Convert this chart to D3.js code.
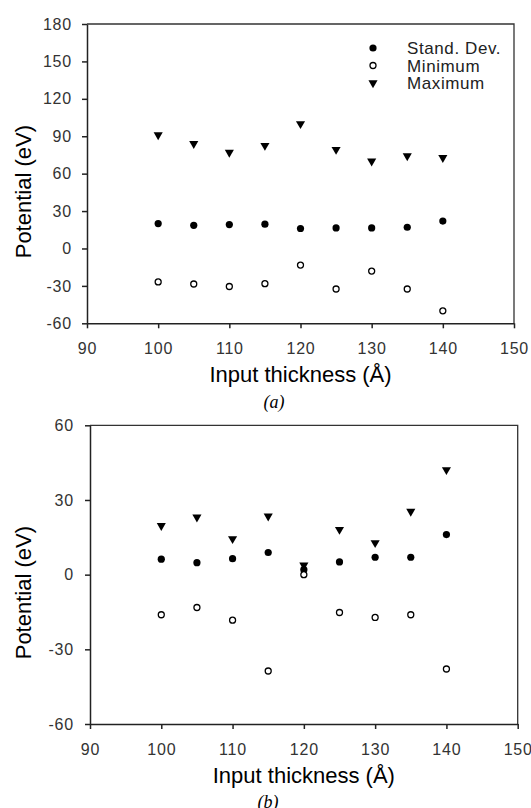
<!DOCTYPE html>
<html>
<head>
<meta charset="utf-8">
<script src="https://cdn.jsdelivr.net/npm/d3@7"></script>
<style>
    body { margin: 0; background: #fff; }
    svg { display: block; }
    .tick text { font-family: "Liberation Sans", Arial, sans-serif; font-size: 16px; fill: #333; letter-spacing: 0.8px; }
    .axis path, .axis line { stroke: #222; stroke-width: 1.5px; }
    .frame { stroke: #333; stroke-width: 1.3px; fill: none; }
    .title { font-family: "Liberation Sans", Arial, sans-serif; font-size: 22px; fill: #000; }
    .legend text { font-family: "Liberation Sans", Arial, sans-serif; font-size: 17px; fill: #222; letter-spacing: 0.6px; }
    .panel-label { font-family: "Liberation Serif", "Times New Roman", serif; font-style: italic; font-size: 18px; }
</style>
</head>
<body>
<div id="chart"></div>
<script>

// input thickness (Angstrom) shared by both panels
var thickness = [100, 105, 110, 115, 120, 125, 130, 135, 140];

// panel (a)
var stdA = [20, 18.6, 19.2, 19.5, 16, 16.5, 16.5, 17, 22];
var minA = [-26.8, -28.5, -30.5, -28.2, -13.3, -32.5, -18.1, -32.5, -50];
var maxA = [91, 84, 77, 82.5, 100, 79.3, 70, 74.2, 72.8];

// panel (b)
var stdB = [6.2, 4.8, 6.4, 8.9, 2, 5.1, 7, 7, 16.1];
var minB = [-16.1, -13.2, -18.3, -38.7, 0, -15.2, -17.2, -16.1, -37.9];
var maxB = [19.7, 23.1, 14.4, 23.5, 3.8, 18.1, 12.8, 25.4, 42.1];

var xTicks = [90, 100, 110, 120, 130, 140, 150];
var yTicksA = [-60, -30, 0, 30, 60, 90, 120, 150, 180];
var yTicksB = [-60, -30, 0, 30, 60];

var seriesNames = ["Stand. Dev.", "Minimum", "Maximum"];

var svg = d3.select("#chart").append("svg")
    .attr("width", 531)
    .attr("height", 808);

var triangle = d3.symbol().type(d3.symbolTriangle).size(36);

function drawMarker(sel, kind) {
    if (kind == 0) {
        sel.append("circle").attr("r", 3.6).attr("fill", "#000");
    } else if (kind == 1) {
        sel.append("circle").attr("r", 3).attr("fill", "#fff")
            .attr("stroke", "#000").attr("stroke-width", 1.3);
    } else {
        sel.append("path").attr("d", triangle).attr("transform", "rotate(180)")
            .attr("fill", "#000");
    }
}

// plain hyphen minus like the original ("-60")
function plain(d) { return String(d); }

/*
 * One scatter panel
 */
function drawPanel(opts) {
    var g = svg.append("g")
        .attr("transform", "translate(" + opts.left + "," + opts.top + ")");

    var width = opts.right - opts.left;
    var height = opts.bottom - opts.top;

    var x = d3.scaleLinear().domain([90, 150]).range([0, width]);
    var y = d3.scaleLinear().domain(opts.yDomain).range([height, 0]);

    // frame top / right
    g.append("path")
        .attr("class", "frame")
        .attr("d", "M0,0H" + width + "V" + height);

    g.append("g")
        .attr("class", "axis x-axis")
        .attr("transform", "translate(0," + height + ")")
        .call(d3.axisBottom(x).tickValues(xTicks).tickFormat(plain).tickSize(5).tickSizeOuter(0).tickPadding(12));

    g.append("g")
        .attr("class", "axis y-axis")
        .call(d3.axisLeft(y).tickValues(opts.yTicks).tickFormat(plain).tickSize(5).tickSizeOuter(0).tickPadding(opts.yPad));

    g.selectAll(".x-axis .tick text").attr("dy", "0.85em");

    var series = [opts.std, opts.min, opts.max];
    series.forEach(function(vals, k) {
        var pts = g.append("g").selectAll("g")
            .data(thickness.map(function(t, i) { return [t, vals[i]]; }))
            .enter()
            .append("g")
            .attr("transform", function(d) { return "translate(" + x(d[0]) + "," + y(d[1]) + ")"; });
        drawMarker(pts, k);
    });

    // titles
    g.append("text")
        .attr("class", "title")
        .attr("text-anchor", "middle")
        .attr("transform", "translate(" + (23 - opts.left) + "," + (height / 2 + 18) + ") rotate(-90)")
        .attr("dy", "0.36em")
        .text("Potential (eV)");

    g.append("text")
        .attr("class", "title")
        .attr("text-anchor", "middle")
        .attr("x", width / 2)
        .attr("y", height + 51)
        .attr("dy", "0.36em")
        .text("Input thickness (Å)");

    g.append("text")
        .attr("class", "panel-label")
        .attr("text-anchor", "middle")
        .attr("x", opts.labelX - opts.left)
        .attr("y", height + 78)
        .attr("dy", "0.35em")
        .text(opts.label);

    return g;
}

drawPanel({
    left: 87, top: 24, right: 514, bottom: 323.3,
    yDomain: [-60, 180], yTicks: yTicksA, yPad: 10,
    std: stdA, min: minA, max: maxA,
    label: "(a)", labelX: 274
});

drawPanel({
    left: 90, top: 425.3, right: 517.7, bottom: 724,
    yDomain: [-60, 60], yTicks: yTicksB, yPad: 11,
    std: stdB, min: minB, max: maxB,
    label: "(b)", labelX: 268
});

// legend (panel a only)
var legend = svg.append("g").attr("class", "legend");
var rows = legend.selectAll("g")
    .data(seriesNames)
    .enter()
    .append("g")
    .attr("transform", function(d, i) { return "translate(373," + (48 + i * 17.5) + ")"; });

rows.each(function(d, i) { drawMarker(d3.select(this), i); });

rows.append("text")
    .attr("x", 34)
    .attr("dy", "0.36em")
    .text(function(d) { return d; });

</script>
</body>
</html>
